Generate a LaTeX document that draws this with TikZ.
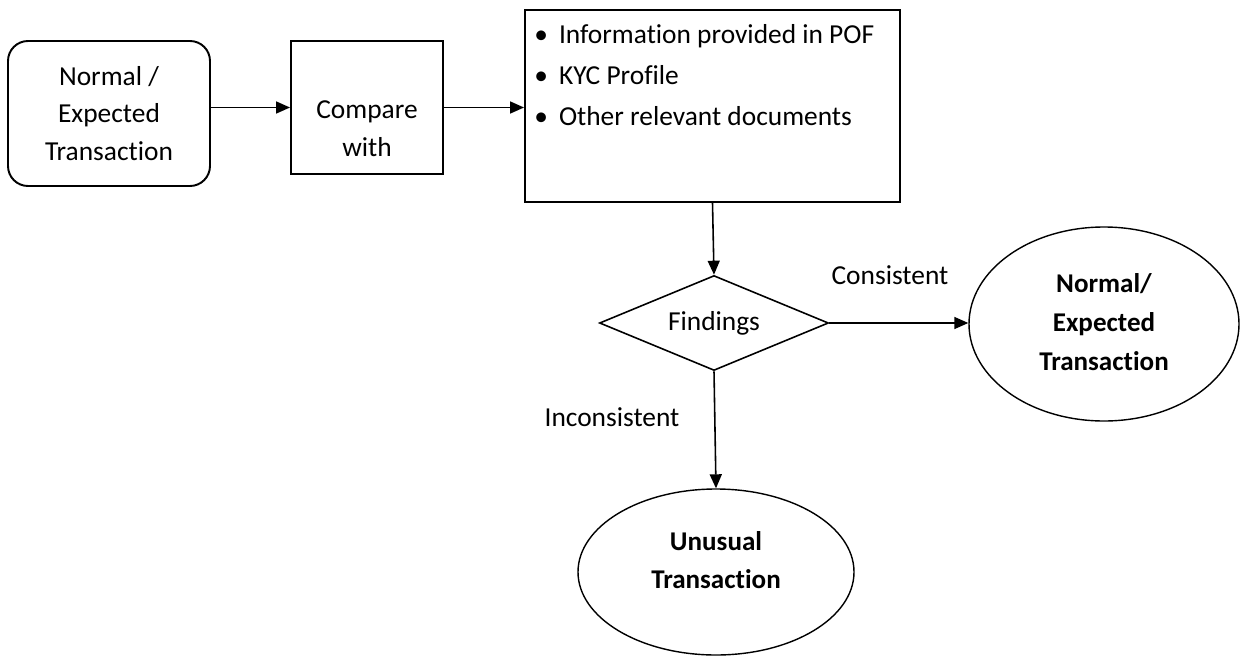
\documentclass[tikz,border=0pt]{standalone}
\usepackage{fontspec}
\setmainfont[Ligatures=NoCommon]{Carlito}
\usetikzlibrary{arrows.meta,shapes,positioning}

\newcommand{\itm}{\textbullet\hspace{0.22cm}}

\begin{document}
\begin{tikzpicture}[
    start/.style={rectangle, draw, line width=1.1pt, rounded corners=0.4cm, minimum width=4.04cm, minimum height=2.9cm, align=center},
    process/.style={rectangle, draw, line width=1.1pt},
    decision/.style={diamond, draw, line width=0.9pt, aspect=2.4, inner sep=0pt, minimum width=4.58cm, minimum height=1.9cm},
    outcome/.style={ellipse, draw, line width=0.8pt, inner sep=0pt},
    boldtext/.style={align=center, font=\fontsize{15.4}{22}\selectfont\bfseries},
    flow/.style={-{Triangle[length=0.28cm, width=0.24cm]}, line width=0.9pt},
    every node/.style={font=\fontsize{15.6}{21.5}\selectfont}
]
\useasboundingbox (0,0) rectangle (24.8,13.12);

% Input and comparison
\node[start] (norm) at (2.18,10.85) {Normal /\\Expected\\Transaction};
\node[process, minimum width=3.04cm, minimum height=2.66cm] (cmp) at (7.34,10.97) {};
\node[align=center] (cmptext) at (7.34,10.54) {Compare\\with};

\node[process, minimum width=7.5cm, minimum height=3.84cm] (info) at (14.25,11.0) {};
\node[anchor=north west, inner sep=0pt, align=left, font=\fontsize{15.6}{23.3}\selectfont] (infotext) at (10.68,12.64)
    {\itm Information provided in POF\\\itm KYC Profile\\\itm Other relevant documents};

% Decision and results
\node[decision, font=\fontsize{15.6}{20}\selectfont] (find) at (14.28,6.66) {Findings};
\node[outcome, minimum width=5.4cm, minimum height=3.88cm] (norm2) at (22.08,6.64) {};
\node[boldtext] (norm2text) at (22.08,6.68) {Normal/\\Expected\\Transaction};
\node[outcome, minimum width=5.52cm, minimum height=3.32cm] (unus) at (14.32,1.68) {};
\node[boldtext] (unustext) at (14.32,1.92) {Unusual\\Transaction};

% Connectors
\draw[flow] (norm.east |- cmp.west) -- (cmp.west);
\draw[flow] (cmp.east) -- (cmp.east -| info.west);
\draw[flow] (info.south) -- (find.north);
\draw[flow] (find.east) -- (find.east -| norm2.west);
\draw[flow] (find.south) -- (unus.north);

% Branch labels
\node (cons) at (17.8,7.62) {Consistent};
\node (incons) at (12.24,4.78) {Inconsistent};

\end{tikzpicture}
\end{document}
